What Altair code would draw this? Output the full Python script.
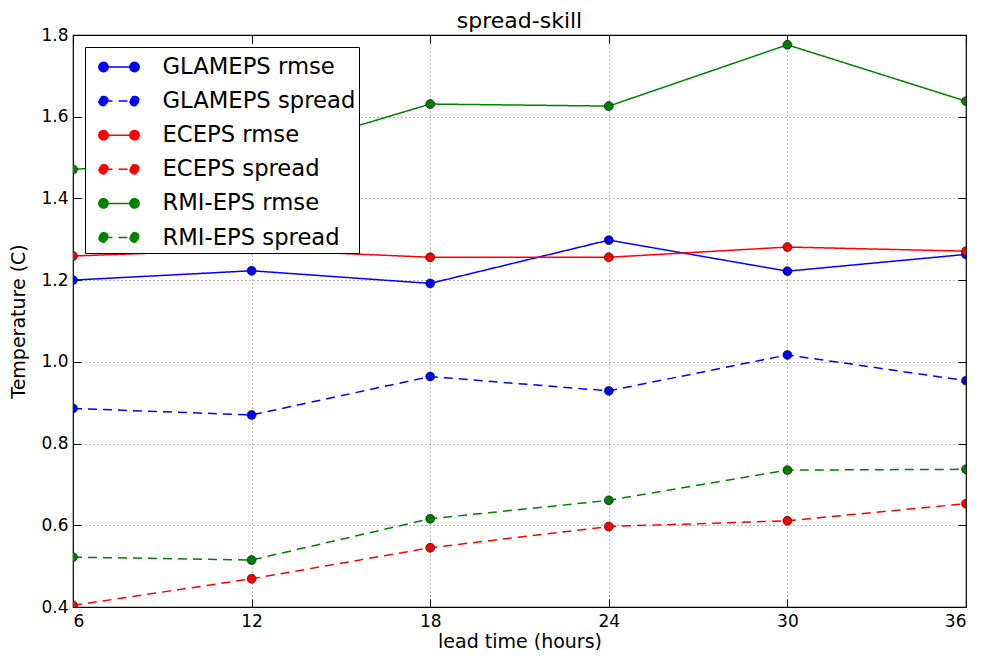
import altair as alt
import pandas as pd

lead_time = [6, 12, 18, 24, 30, 36]
y_ticks = [0.4, 0.6, 0.8, 1.0, 1.2, 1.4, 1.6, 1.8]
series_names = ["GLAMEPS rmse", "GLAMEPS spread", "ECEPS rmse", "ECEPS spread",
                "RMI-EPS rmse", "RMI-EPS spread"]
glameps_rmse = [1.200, 1.223, 1.192, 1.298, 1.222, 1.263]
glameps_spread = [0.886, 0.870, 0.964, 0.929, 1.017, 0.954]
eceps_rmse = [1.259, 1.275, 1.256, 1.256, 1.281, 1.271]
eceps_spread = [0.404, 0.469, 0.545, 0.597, 0.611, 0.653]
rmi_rmse = [1.471, 1.500, 1.631, 1.626, 1.776, 1.638]
rmi_spread = [0.522, 0.515, 0.616, 0.661, 0.735, 0.737]
series_colors = ["#0000ff", "#0000ff", "#ff0000", "#ff0000", "#008000", "#008000"]
series_dashes = [[1, 0], [9, 6], [1, 0], [9, 6], [1, 0], [9, 6]]

values = [glameps_rmse, glameps_spread, eceps_rmse, eceps_spread, rmi_rmse, rmi_spread]
rows = []
for name, vals in zip(series_names, values):
    for t, v in zip(lead_time, vals):
        rows.append({"lead": t, "value": v, "series": name})
df = pd.DataFrame(rows)

FONT = "DejaVu Sans"
sym_path = ("M-1,0L1,0"
            "M-1.3,0a0.3,0.3 0 1,0 0.6,0a0.3,0.3 0 1,0 -0.6,0"
            "M0.7,0a0.3,0.3 0 1,0 0.6,0a0.3,0.3 0 1,0 -0.6,0")

legend = alt.Legend(orient="none", legendX=12, legendY=12, title=None,
                    symbolType=sym_path, symbolSize=961, symbolStrokeWidth=1.5,
                    labelFontSize=22.7, labelFont=FONT, labelColor="black",
                    labelOffset=27, padding=3.5, symbolOffset=14, rowPadding=5.1,
                    strokeColor="black", fillColor="white", cornerRadius=0,
                    labelLimit=400)

x_scale = alt.Scale(domain=[6, 36], nice=False, zero=False)
y_scale = alt.Scale(domain=[0.4, 1.8], nice=False, zero=False)

x_main = alt.X("lead:Q", scale=x_scale,
               axis=alt.Axis(values=lead_time, title="lead time (hours)", labelPadding=6,
                             titlePadding=3, grid=True, ticks=False))
y_main = alt.Y("value:Q", scale=y_scale,
               axis=alt.Axis(values=y_ticks, format=".1f", title="Temperature (C)",
                             labelPadding=5, titlePadding=12, grid=True, ticks=False))


def tick_axis(orient, vals):
    return alt.Axis(orient=orient, values=vals, labels=False, grid=False, domain=False,
                    ticks=True, tickSize=8, tickColor="black", tickWidth=1, offset=-8,
                    title=None)


stroke_scale = alt.Scale(domain=series_names, range=series_colors)
dash_scale = alt.Scale(domain=series_names, range=series_dashes)

lines = alt.Chart(df).mark_line(strokeWidth=1.5, clip=True).encode(
    x=x_main, y=y_main,
    stroke=alt.Stroke("series:N", scale=stroke_scale, sort=series_names, legend=legend),
    strokeDash=alt.StrokeDash("series:N", scale=dash_scale, sort=series_names, legend=legend),
    detail="series:N",
)
points = alt.Chart(df).mark_point(filled=True, size=80, stroke="black", strokeWidth=0.6,
                                  opacity=1, clip=True).encode(
    x=alt.X("lead:Q", scale=x_scale, axis=None),
    y=alt.Y("value:Q", scale=y_scale, axis=None),
    fill=alt.Fill("series:N", scale=stroke_scale, sort=series_names, legend=legend),
)
ticks_bl = alt.Chart(df).mark_point(opacity=0).encode(
    x=alt.X("lead:Q", scale=x_scale, axis=tick_axis("bottom", lead_time)),
    y=alt.Y("value:Q", scale=y_scale, axis=tick_axis("left", y_ticks)),
)
ticks_tr = alt.Chart(df).mark_point(opacity=0).encode(
    x=alt.X("lead:Q", scale=x_scale, axis=tick_axis("top", lead_time)),
    y=alt.Y("value:Q", scale=y_scale, axis=tick_axis("right", y_ticks)),
)

chart = alt.layer(lines, points, ticks_bl, ticks_tr).resolve_axis(
    x="independent", y="independent"
).properties(
    width=893, height=572,
    autosize=alt.AutoSizeParams(type="none"),
    padding={"left": 65, "top": 27, "right": 7, "bottom": 43},
    title=alt.TitleParams("spread-skill", fontSize=22, font=FONT, fontWeight="normal",
                          anchor="middle", frame="group", offset=4, dy=11, color="black"),
).configure_view(
    stroke="black", strokeWidth=1.2
).configure_axis(
    labelFont=FONT, labelFontSize=17, labelColor="black",
    titleFont=FONT, titleFontSize=19, titleFontWeight="normal", titleColor="black",
    gridColor="black", gridDash=[1, 3], gridWidth=0.8, gridOpacity=0.7,
    domain=False,
)

chart.save("out.html", embed_options={"renderer": "svg", "actions": False})
